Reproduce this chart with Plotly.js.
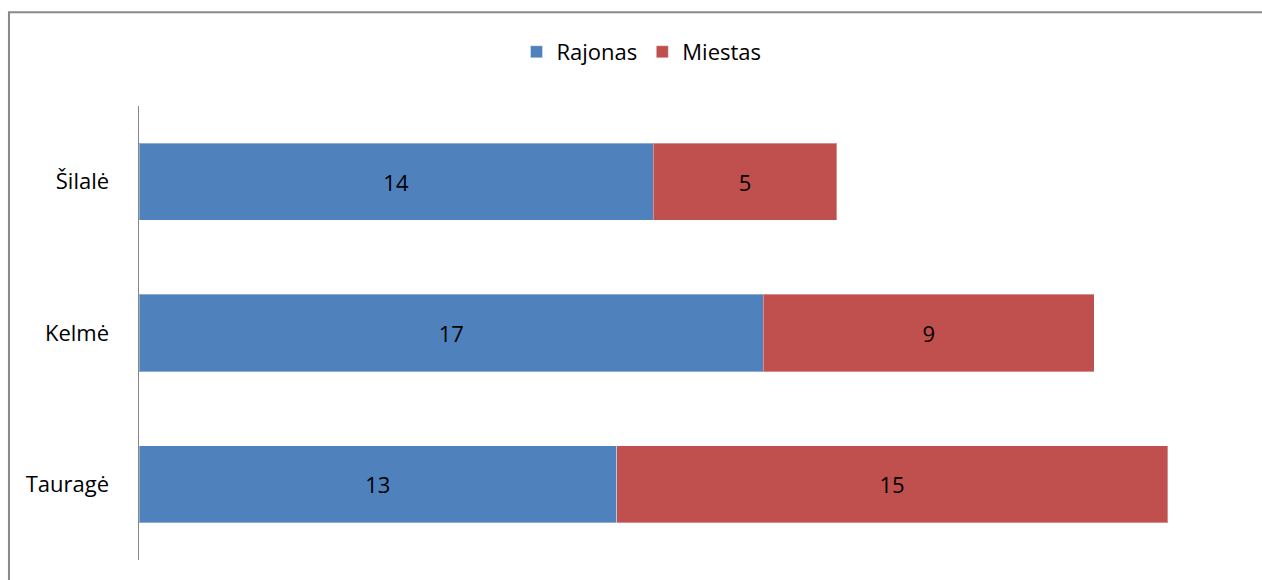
<!DOCTYPE html>
<html>
<head>
<meta charset="utf-8">
<script src="https://cdn.plot.ly/plotly-3.0.1.min.js"></script>
<style>
html,body{margin:0;padding:0;background:#fff;overflow:hidden;}
#chart{width:1262px;height:580px;}
</style>
</head>
<body>
<div id="chart"></div>
<script>
const categories = ['Tauragė', 'Kelmė', 'Šilalė'];
const rajonas = [13, 17, 14];
const miestas = [15, 9, 5];
const seriesNames = ['Rajonas', 'Miestas'];

const FONT = 'Open Sans, Noto Sans, sans-serif';
const FS = 22;

const traces = [
  {
    type: 'bar', orientation: 'h', name: seriesNames[0],
    y: categories, x: rajonas,
    marker: {color: '#4F81BD', line: {color: 'rgba(255,255,255,0.35)', width: 1}},
    text: rajonas.map(String), textposition: 'inside', insidetextanchor: 'middle',
    textfont: {family: FONT, size: FS, color: '#000'}, hoverinfo: 'skip'
  },
  {
    type: 'bar', orientation: 'h', name: seriesNames[1],
    y: categories, x: miestas,
    marker: {color: '#C0504D', line: {color: 'rgba(255,255,255,0.35)', width: 1}},
    text: miestas.map(String), textposition: 'inside', insidetextanchor: 'middle',
    textfont: {family: FONT, size: FS, color: '#000'}, hoverinfo: 'skip'
  }
];

const layout = {
  width: 1262, height: 580,
  margin: {l: 139, r: 21, t: 106, b: 20, pad: 0},
  paper_bgcolor: '#fff', plot_bgcolor: '#fff',
  barmode: 'stack', bargap: 0.49,
  font: {family: FONT, size: FS, color: '#000'},
  showlegend: true,
  legend: {
    orientation: 'h', x: 0.456, y: 1.119, xanchor: 'center', yanchor: 'middle',
    traceorder: 'normal', font: {family: FONT, size: FS, color: '#000'}, itemwidth: 30
  },
  xaxis: {range: [0, 30], visible: false, fixedrange: true},
  yaxis: {
    type: 'category', showline: true, linecolor: '#868686', linewidth: 1.5,
    showgrid: false, zeroline: false, ticks: '', ticklabelstandoff: 24,
    tickfont: {family: FONT, size: FS, color: '#000'}, fixedrange: true
  },
  shapes: [{
    type: 'rect', xref: 'paper', yref: 'paper',
    x0: -0.118, x1: 1.06, y0: -0.12, y1: 1.2064,
    line: {color: '#898989', width: 2}, fillcolor: 'rgba(0,0,0,0)', layer: 'above'
  }]
};

Plotly.newPlot('chart', traces, layout, {staticPlot: true, displayModeBar: false});
</script>
</body>
</html>
